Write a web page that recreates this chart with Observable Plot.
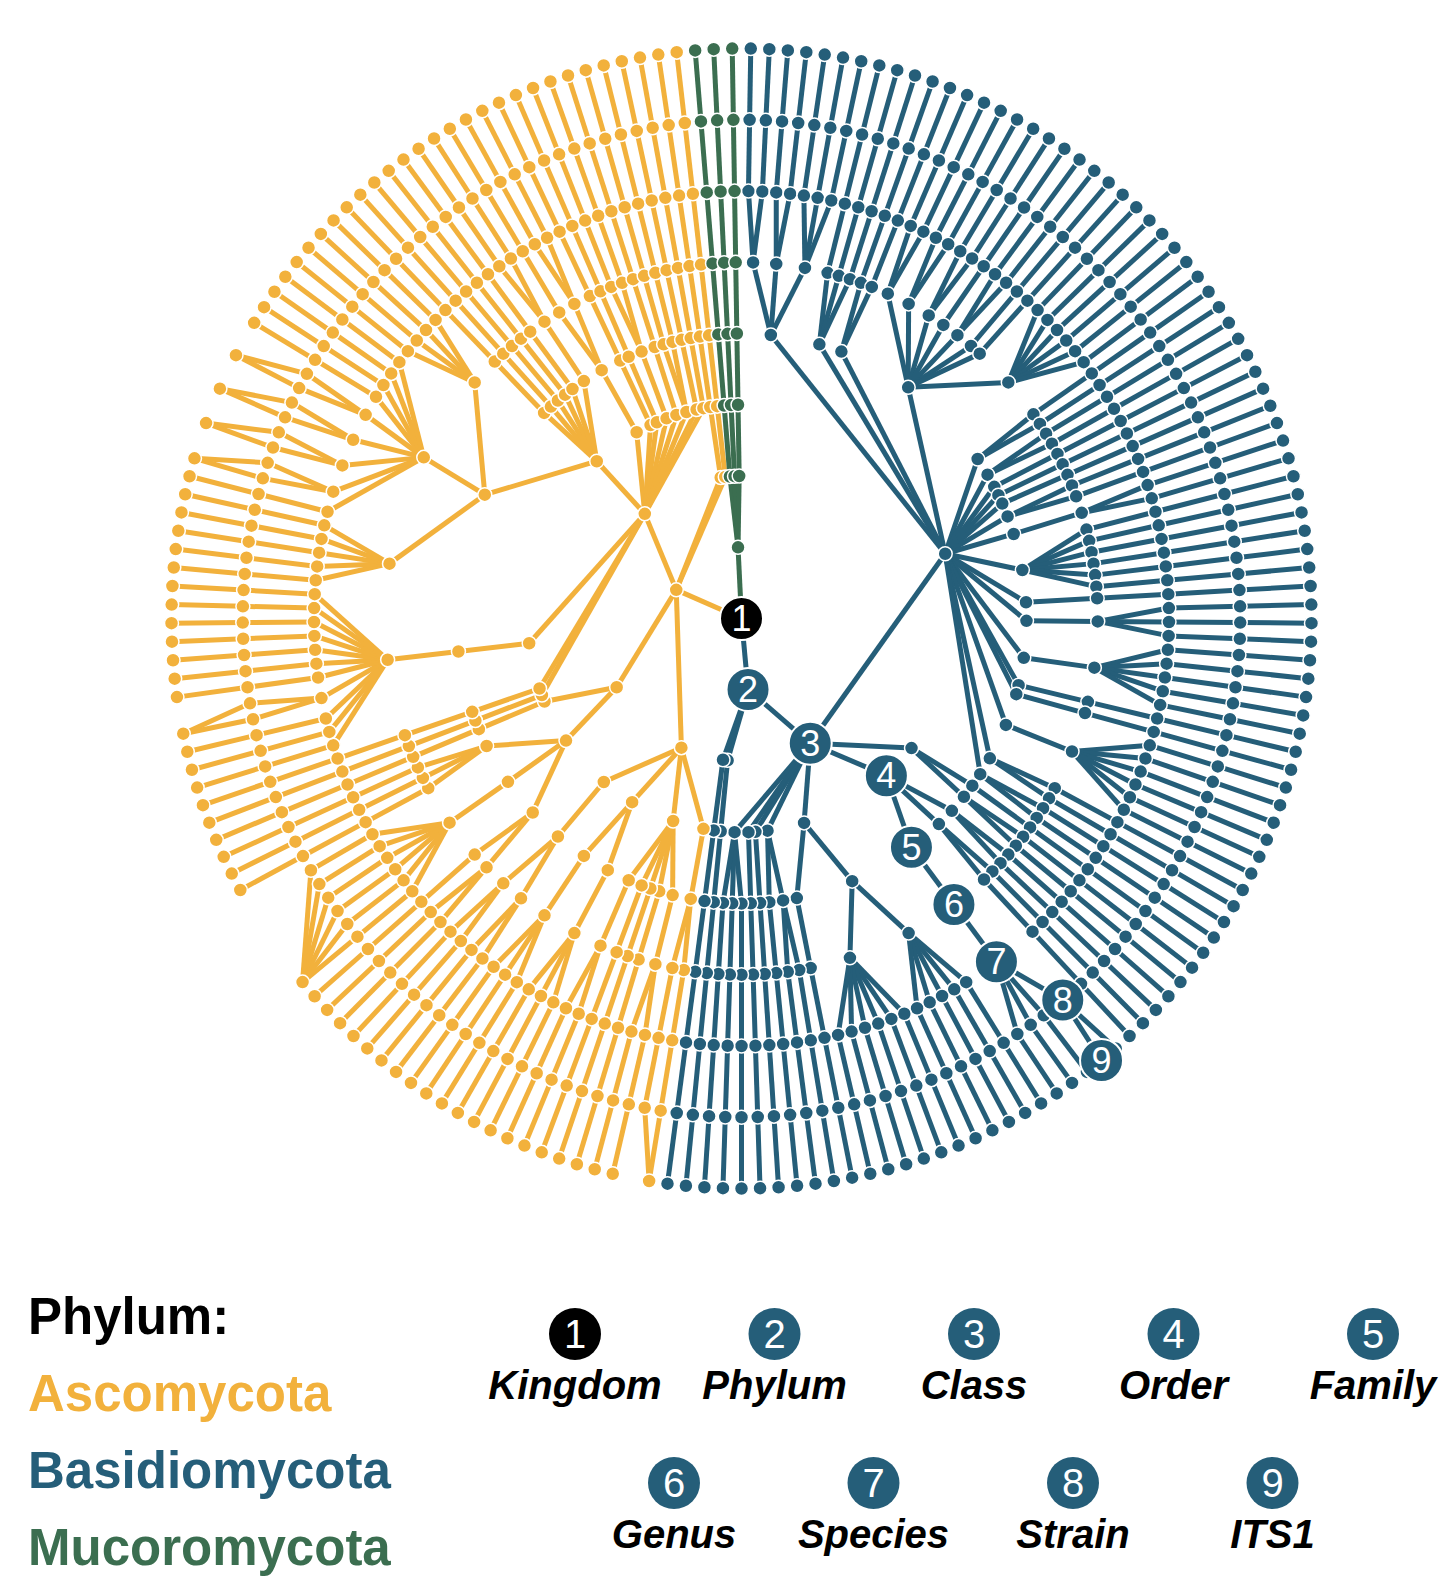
<!DOCTYPE html>
<html><head><meta charset="utf-8">
<script src="https://cdn.jsdelivr.net/npm/d3@7"></script>
<script src="https://cdn.jsdelivr.net/npm/@observablehq/plot@0.6"></script>
<style>
body{margin:0;background:#fff;}
#wrap{width:1445px;}
</style></head><body><div id="wrap"><div id="chart"></div><div id="legend"></div></div>
<script>
// ---------------- DATA ----------------
// Tree notation: an array is a node; inside it, an array is a child node,
// a positive number k = k unbranched lineages down to ITS1,
// a negative number -k = k lineages ending at strain level (their ITS1 is shared).
const phyla = ["Ascomycota", "Basidiomycota", "Mucoromycota"];
const phylumColors = {Ascomycota: "#F2B13C", Basidiomycota: "#255E79", Mucoromycota: "#3B6E50"};
const ranks = ["Kingdom", "Phylum", "Class", "Order", "Family", "Genus", "Species", "Strain", "ITS1"];

const basidioOrderA = [
  [[2], [2], [3]], [3], [2],
  [[2], [2], [2], 1, [2], 1, 1, [6]],
  [2], [2], 1, 1, 1, [2], [[2]], [6], 1, [[3]], [[5]], 1, 1, [[6]], [2], [2]
];
const basidioOrderB = [1, [2]];
const basidioOrderC = [[2], [2], [[[[2], 3]]]];
const basidioOrderD = [[[5], [6]], 1];
const basidioOtherOrders = [[[2], 1], 1, 1, [3]];
const basidiomycota = [[basidioOrderA, basidioOrderB, basidioOrderC, basidioOrderD, ...basidioOtherOrders], 2];

const ascoClassA = [[[1, -1]], [[[2]], 1, 1, 1, [[2]]], [[[3]], [[3]]], [[[2], [2]]]];
const ascoClassB = [[[[2], 1], [[1, -5]], [3]], 1];
const ascoClassC = [
  1, 1,
  [[[3, [1, -1], 7]]],
  [[[5], [1, [1, -1], [1, -1], [1, -1], [1, -1], 4], [4]], 1, 1, 1, 1, 1, [[2]]],
  [[1, [2]]], 1, 1, [[2]], 1, [2], 1, 1
];
const ascomycota = [ascoClassA, ascoClassB, ascoClassC, 1, 1];
const mucoromycota = [3];

const phylumOrder = ["Basidiomycota", "Ascomycota", "Mucoromycota"];
const phylumTrees = {Basidiomycota: basidiomycota, Ascomycota: ascomycota, Mucoromycota: mucoromycota};
const highlightPath = [0, 0, 2, 2, 0, 0, 0, 1];
const highlightLabels = ["1", "2", "3", "4", "5", "6", "7", "8", "9"];

// ---------------- BUILD ----------------
const MAXD = 8;
function chain(d, end) {
  const n = {children: []};
  if (d < end) n.children.push(chain(d + 1, end));
  return n;
}
function build(items, depth) {
  const node = {children: []};
  for (const it of items) {
    if (Array.isArray(it)) node.children.push(build(it, depth + 1));
    else if (it > 0) for (let i = 0; i < it; i++) node.children.push(chain(depth + 1, MAXD));
    else for (let i = 0; i < -it; i++) node.children.push(chain(depth + 1, MAXD - 1));
  }
  return node;
}
const rootData = {children: phylumOrder.map(p => Object.assign(build(phylumTrees[p], 1), {phylum: p}))};
const root = d3.hierarchy(rootData);
d3.cluster().nodeSize([1, 1]).separation(() => 1)(root);
const leaves = root.leaves();
const N = leaves.length;
const x0 = d3.min(leaves, d => d.x);
root.each(n => {
  n.theta = (n.x - x0 + 0.5) / N * 2 * Math.PI;
  n.px = n.depth * Math.sin(n.theta);
  n.py = -n.depth * Math.cos(n.theta);
  n.ph = n.depth === 0 ? null : n.ancestors().find(a => a.depth === 1).data.phylum;
});
const col = ph => ph ? phylumColors[ph] : "#000";

const links = root.links().map(l => ({x1: l.source.px, y1: l.source.py, x2: l.target.px, y2: l.target.py, ph: l.target.ph}));
for (const t of leaves.filter(l => l.depth === MAXD - 1)) {
  let a = t.parent, cands = [];
  while (a && !(cands = a.leaves().filter(l => l.depth === MAXD)).length) a = a.parent;
  const tg = d3.least(cands, l => Math.abs(l.x - t.x));
  links.push({x1: t.px, y1: t.py, x2: tg.px, y2: tg.py, ph: t.ph});
}

const hl = [root];
{ let cur = root; for (const i of highlightPath) { cur = cur.children[i]; hl.push(cur); } }
const hset = new Set(hl);
const hlData = hl.map((n, i) => ({px: n.px, py: n.py, ph: n.ph, label: highlightLabels[i]}));
const plainNodes = root.descendants().filter(n => !hset.has(n));

// ---------------- PLOT ----------------
const W = 1445, H = 1245, cx = 741, cy = 618, step = 71.25;
const chart = Plot.plot({
  width: W, height: H, margin: 0, axis: null,
  x: {domain: [-cx / step, (W - cx) / step], range: [0, W]},
  y: {domain: [-cy / step, (H - cy) / step], range: [0, H]},
  style: {background: "white"},
  marks: [
    Plot.link(links, {x1: "x1", y1: "y1", x2: "x2", y2: "y2", stroke: d => col(d.ph), strokeWidth: 5}),
    Plot.dot(plainNodes, {x: "px", y: "py", r: 7, fill: d => col(d.ph), stroke: "white", strokeWidth: 1.5}),
    Plot.dot(hlData, {x: "px", y: "py", r: 21.5, fill: d => col(d.ph), stroke: "white", strokeWidth: 2}),
    Plot.text(hlData, {x: "px", y: "py", text: "label", fill: "white", fontSize: 36, fontFamily: "Liberation Sans, Arial, sans-serif", dy: 1})
  ]
});
document.getElementById("chart").appendChild(chart);

// ---------------- LEGEND ----------------
const LH = 331, top0 = H;
const leg = d3.select("#legend").append("svg").attr("width", W).attr("height", LH)
  .style("display", "block").style("font-family", "'Liberation Sans', Arial, sans-serif");
leg.append("text").attr("x", 28).attr("y", 1334 - top0).attr("font-size", 51).attr("font-weight", "bold").attr("fill", "#000").text("Phylum:");
const legendPhyla = ["Ascomycota", "Basidiomycota", "Mucoromycota"];
legendPhyla.forEach((p, i) => {
  leg.append("text").attr("x", 28).attr("y", 1411 + i * 77 - top0).attr("font-size", 51)
    .attr("font-weight", "bold").attr("fill", phylumColors[p]).text(p);
});
const rankPos = ranks.map((r, i) => i < 5 ? {x: 575 + i * 199.5, y: 1334} : {x: 674 + (i - 5) * 199.5, y: 1483});
ranks.forEach((r, i) => {
  const g = leg.append("g").attr("transform", `translate(${rankPos[i].x},${rankPos[i].y - top0})`);
  g.append("circle").attr("r", 26).attr("fill", i === 0 ? "#000" : phylumColors.Basidiomycota);
  g.append("text").attr("text-anchor", "middle").attr("dy", "0.36em").attr("font-size", 40).attr("fill", "#fff").text(String(i + 1));
  g.append("text").attr("text-anchor", "middle").attr("y", 65).attr("font-size", 40).attr("font-weight", "bold")
    .attr("font-style", "italic").attr("fill", "#000").text(r);
});
</script></body></html>
